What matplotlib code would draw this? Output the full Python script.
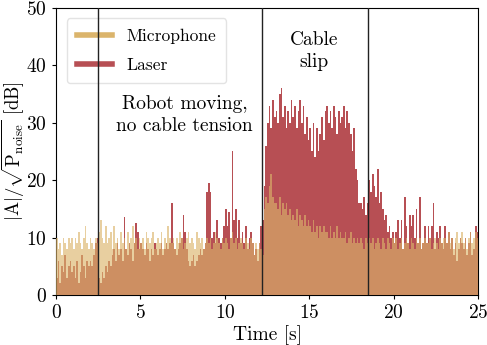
import numpy as np
import matplotlib
matplotlib.use("Agg")
import matplotlib.pyplot as plt
from matplotlib.lines import Line2D

plt.rcParams['font.family'] = ['cmr10', 'DejaVu Serif']
plt.rcParams['mathtext.fontset'] = 'cm'
plt.rcParams['axes.formatter.use_mathtext'] = True

# time step 0.1 s, 0..25 s
t_start, t_end = 0.0, 25.0

microphone = [
    10, 8, 9, 7, 10, 9, 8, 10, 9, 10,
    8, 10, 9, 11, 9, 8, 10, 12, 9, 8,
    10, 9, 8, 10, 9, 11, 13, 10, 9, 12,
    9, 10, 11, 8, 12, 9, 10, 8, 11, 9,
    10, 8, 11, 9, 10, 12, 9, 10, 8, 10,
    9, 10, 8, 11, 10, 9, 10, 11, 8, 9,
    10, 9, 11, 8, 10, 9, 12, 10, 9, 10,
    8, 10, 9, 11, 10, 8, 9, 10, 11, 9,
    10, 9, 8, 11, 10, 9, 10, 8, 9, 10,
    9, 10, 8, 9, 11, 10, 9, 8, 10, 9,
    10, 9, 8, 10, 11, 9, 10, 8, 9, 10,
    9, 8, 10, 9, 8, 10, 9, 7, 9, 8,
    9, 8, 7, 15, 17, 16, 19, 21, 17, 16,
    16, 15, 17, 14, 16, 15, 16, 14, 15, 13,
    14, 13, 15, 12, 14, 13, 12, 14, 12, 13,
    12, 11, 13, 11, 12, 10, 12, 11, 12, 11,
    11, 10, 12, 10, 11, 10, 12, 10, 11, 10,
    10, 11, 9, 10, 11, 9, 10, 9, 10, 9,
    10, 9, 8, 10, 9, 10, 9, 10, 8, 9,
    10, 9, 8, 10, 9, 8, 10, 9, 8, 10,
    9, 10, 8, 9, 10, 8, 9, 10, 9, 8,
    10, 9, 8, 10, 9, 10, 8, 9, 10, 9,
    9, 10, 8, 9, 10, 9, 8, 10, 9, 10,
    10, 9, 11, 9, 10, 8, 10, 11, 9, 10,
    11, 9, 10, 8, 10, 11, 9, 10, 11, 10,
]

laser = [
    3, 6, 2, 5, 4, 7, 3, 5, 6, 4,
    5, 3, 6, 2, 4, 7, 5, 3, 6, 5,
    6, 5, 7, 9, 10, 3, 2, 4, 3, 5,
    4, 6, 5, 7, 8, 6, 9, 7, 8, 6,
    13.5, 8, 7, 9, 8, 6, 9, 12.5, 11, 8,
    9, 8, 7, 9, 8, 6, 8, 7, 9, 8,
    7, 8, 9, 7, 8, 9, 8, 9, 16, 9,
    8, 7, 8, 9, 10, 14, 11, 8, 6, 5,
    6, 7, 5, 6, 7, 8, 7, 8, 9, 18,
    19.5, 18, 10, 11, 9, 13, 10, 9, 10, 12,
    15, 12, 14.5, 10, 25, 13, 15, 10, 13, 9,
    11, 9, 12, 8, 10, 11, 9, 7, 8, 6,
    9, 12, 13, 19, 26, 30, 33, 29, 34, 31,
    32, 30, 35, 36, 31, 33, 29, 32, 30, 34,
    31, 33, 29, 32, 34, 30, 33, 28, 31, 27,
    29, 25, 30, 24, 29, 25, 28, 31, 27, 32,
    33, 30, 32, 29, 33, 31, 28, 32, 30, 31,
    33, 29, 32, 30, 28, 25, 29, 22, 20, 16,
    16, 15, 17, 14, 16, 20, 18, 21, 19, 17,
    22, 16, 18, 15, 13, 14, 11, 12, 10, 11,
    9, 11, 13, 10, 13, 8, 17, 12, 9, 14,
    12, 14, 10, 15, 9, 17, 8, 9, 12, 9,
    12, 10, 12, 16, 8, 11, 10, 12, 9, 8,
    12, 9, 11, 8, 10, 7, 9, 6, 8, 10,
    9, 8, 10, 7, 9, 11, 7, 8, 12, 11,
]

event_times = [2.5, 12.2, 18.5]
series_labels = ["Microphone", "Laser"]

mic_color = (219/255, 180/255, 107/255)
laser_color = (183/255, 79/255, 84/255)

fig = plt.figure(figsize=(4.87, 3.45), dpi=100)
ax = fig.add_axes([0.115, 0.145, 0.867, 0.832])

edges = np.linspace(t_start, t_end, len(laser) + 1)
ax.stairs(laser, edges, fill=True, color=laser_color, zorder=2)
ax.stairs(microphone, edges, fill=True, color=mic_color, alpha=0.64, zorder=3)

for tx in event_times:
    ax.axvline(tx, color='#222222', lw=1.0, zorder=6)

ax.text(15.3, 42.5, "Cable\nslip", ha='center', va='center', fontsize=14, linespacing=1.3)
ax.text(7.6, 31.3, "Robot moving,\nno cable tension", ha='center', va='center', fontsize=14, linespacing=1.3)

ax.set_xlim(0, 25)
ax.set_ylim(0, 50)
ax.set_xticks([0, 5, 10, 15, 20, 25])
ax.set_yticks([0, 10, 20, 30, 40, 50])
ax.tick_params(labelsize=14, length=3)
ax.set_xlabel("Time [s]", fontsize=14, labelpad=2)
ax.set_ylabel(r"$|\mathrm{A}|/\sqrt{\mathrm{P}_{\mathrm{noise}}}$ [dB]", fontsize=13.5)
ax.yaxis.set_label_coords(-0.068, 0.5)

handles = [Line2D([], [], color=mic_color, lw=4), Line2D([], [], color=laser_color, lw=4)]
leg = ax.legend(handles, series_labels, loc='upper left', fontsize=12.6,
                frameon=True, framealpha=0.8, edgecolor='#dddddd',
                handlelength=2.0, borderaxespad=0.6, labelspacing=0.75,
                borderpad=0.6)
leg.set_zorder(5)

fig.savefig("out.png", dpi=100)
